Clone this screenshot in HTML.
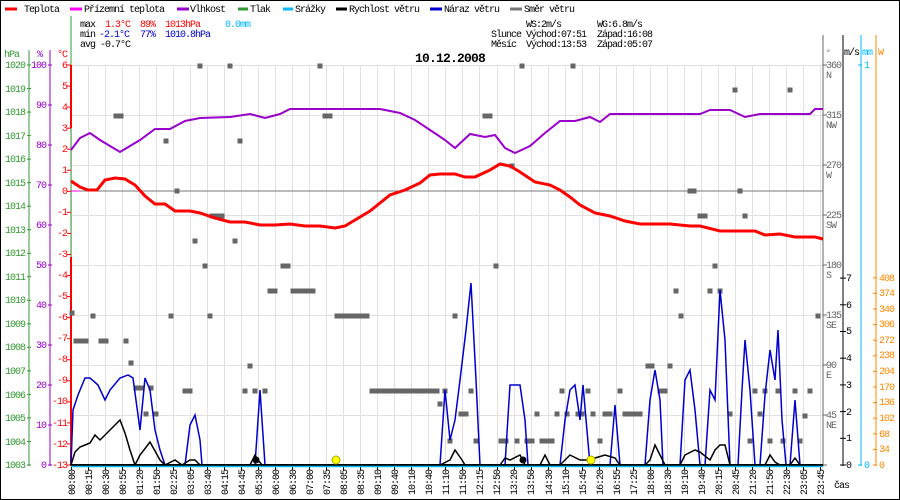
<!DOCTYPE html>
<html><head><meta charset="utf-8"><style>
html,body{margin:0;padding:0;background:#fff}
svg{display:block;font-family:"Liberation Mono",monospace;font-size:10px;letter-spacing:-1px}
</style></head><body>
<svg id="s" width="900" height="500" xmlns="http://www.w3.org/2000/svg">
<rect x="0.5" y="0.5" width="899" height="499" fill="#fff" stroke="#000"/>
<g id="grid" stroke="#e4e0e0" stroke-width="1"></g>
<g stroke-width="3">
<line x1="5" y1="9" x2="17" y2="9" stroke="#f00"/><line x1="70" y1="9" x2="82" y2="9" stroke="#f0f"/>
<line x1="177" y1="9" x2="189" y2="9" stroke="#90c"/><line x1="238" y1="9" x2="248" y2="9" stroke="#393"/>
<line x1="283" y1="9" x2="293" y2="9" stroke="#0bf"/><line x1="336" y1="9" x2="347" y2="9" stroke="#000"/>
<line x1="430" y1="9" x2="442" y2="9" stroke="#00c"/><line x1="510" y1="9" x2="522" y2="9" stroke="#777"/>
</g>
<g fill="#000">
<text x="24" y="12">Teplota</text><text x="84" y="12">Přízemní teplota</text><text x="190" y="12">Vlhkost</text>
<text x="250" y="12">Tlak</text><text x="295" y="12">Srážky</text><text x="349" y="12">Rychlost větru</text>
<text x="444" y="12">Náraz větru</text><text x="524" y="12">Směr větru</text>
<text x="80" y="27">max</text><text x="80" y="37">min</text><text x="80" y="47">avg -0.7°C</text>
<text x="526" y="27">WS:2m/s</text><text x="597" y="27">WG:6.8m/s</text>
<text x="491" y="37">Slunce</text><text x="526" y="37">Východ:07:51</text><text x="597" y="37">Západ:16:08</text>
<text x="491" y="47">Měsíc</text><text x="526" y="47">Východ:13:53</text><text x="597" y="47">Západ:05:07</text>
</g>
<text x="105" y="27" fill="#f00">1.3°C</text><text x="140" y="27" fill="#f00">89%</text><text x="165" y="27" fill="#f00">1013hPa</text><text x="225" y="27" fill="#0bf">0.0mm</text>
<text x="99" y="37" fill="#00c">-2.1°C</text><text x="140" y="37" fill="#00c">77%</text><text x="165" y="37" fill="#00c">1010.8hPa</text>
<text x="415" y="62" font-size="13" font-weight="bold" fill="#000" style="letter-spacing:-0.8px">10.12.2008</text>
<line x1="29" y1="50" x2="29" y2="466" stroke="#393"/>
<line x1="50" y1="50" x2="50" y2="466" stroke="#90c"/>
<line x1="71" y1="16" x2="71" y2="466" stroke="#393"/>
<line x1="71" y1="65" x2="71" y2="128" stroke="#f00" stroke-width="2"/>
<line x1="71" y1="257" x2="71" y2="466" stroke="#f00" stroke-width="2"/>
<text x="4" y="57" fill="#393">hPa</text><text x="37" y="57" fill="#90c">%</text><text x="57" y="57" fill="#f00">°C</text>
<g id="lax"></g>
<g fill="#393" text-anchor="end">
<text x="25" y="68">1020</text><text x="25" y="92">1019</text><text x="25" y="115">1018</text><text x="25" y="139">1017</text><text x="25" y="162">1016</text><text x="25" y="186">1015</text><text x="25" y="209">1014</text><text x="25" y="233">1013</text><text x="25" y="256">1012</text><text x="25" y="280">1011</text><text x="25" y="303">1010</text><text x="25" y="327">1009</text><text x="25" y="350">1008</text><text x="25" y="374">1007</text><text x="25" y="398">1006</text><text x="25" y="421">1005</text><text x="25" y="445">1004</text><text x="25" y="468">1003</text>
</g>
<g fill="#90c" text-anchor="end">
<text x="46" y="68">100</text><text x="46" y="108">90</text><text x="46" y="148">80</text><text x="46" y="188">70</text><text x="46" y="228">60</text><text x="46" y="268">50</text><text x="46" y="308">40</text><text x="46" y="348">30</text><text x="46" y="388">20</text><text x="46" y="428">10</text><text x="46" y="468">0</text>
</g>
<g fill="#f00" text-anchor="end">
<text x="67" y="68">6</text><text x="67" y="89">5</text><text x="67" y="110">4</text><text x="67" y="131">3</text><text x="67" y="152">2</text><text x="67" y="173">1</text><text x="67" y="194">0</text><text x="67" y="215">-1</text><text x="67" y="236">-2</text><text x="67" y="257">-3</text><text x="67" y="278">-4</text><text x="67" y="299">-5</text><text x="67" y="320">-6</text><text x="67" y="341">-7</text><text x="67" y="362">-8</text><text x="67" y="383">-9</text><text x="67" y="404">-10</text><text x="67" y="426">-11</text><text x="67" y="447">-12</text><text x="67" y="468">-13</text>
</g>
<line x1="823" y1="35" x2="823" y2="466" stroke="#666" stroke-width="1"/>
<line x1="843" y1="35" x2="843" y2="466" stroke="#000"/>
<line x1="861" y1="35" x2="861" y2="466" stroke="#0bf"/>
<line x1="876" y1="35" x2="876" y2="466" stroke="#f80"/>
<text x="826" y="55" fill="#666" font-size="8">°</text><text x="844" y="55" fill="#000">m/s</text><text x="862" y="55" fill="#0bf">mm</text><text x="878" y="55" fill="#f80">W</text>
<g fill="#666">
<text x="826" y="68">360</text><text x="826" y="78">N</text><text x="826" y="118">315</text><text x="826" y="128">NW</text><text x="826" y="168">270</text><text x="826" y="178">W</text><text x="826" y="218">225</text><text x="826" y="228">SW</text><text x="826" y="268">180</text><text x="826" y="278">S</text><text x="826" y="318">135</text><text x="826" y="328">SE</text><text x="826" y="368">90</text><text x="826" y="378">E</text><text x="826" y="418">45</text><text x="826" y="428">NE</text>
</g>
<g fill="#000"><text x="846" y="468">0</text><text x="846" y="441">1</text><text x="846" y="415">2</text><text x="846" y="388">3</text><text x="846" y="361">4</text><text x="846" y="334">5</text><text x="846" y="308">6</text><text x="846" y="281">7</text><text x="834" y="488">čas</text></g>
<g fill="#0bf"><text x="864" y="68">1</text><text x="864" y="468">0</text></g>
<g fill="#f80"><text x="879" y="468">0</text><text x="879" y="452">34</text><text x="879" y="437">68</text><text x="879" y="421">102</text><text x="879" y="405">136</text><text x="879" y="390">170</text><text x="879" y="374">204</text><text x="879" y="358">238</text><text x="879" y="343">272</text><text x="879" y="327">306</text><text x="879" y="312">340</text><text x="879" y="296">374</text><text x="879" y="281">408</text></g>
<g id="rax"></g>
<line x1="71" y1="191" x2="823" y2="191" stroke="#777"/>
<line x1="71" y1="191" x2="80" y2="191" stroke="#f0f"/>
<g id="sq" fill="#666"></g>
<polyline fill="none" stroke="#90c" stroke-width="2" points="71,150 80,138 90,133 100,140 110,146 120,152 130,146 140,140 155,129 170,129 185,121 200,118 230,117 250,114 265,118 280,114 290,109 380,109 400,113 415,120 430,130 445,140 455,148 470,134 485,137 495,135 505,148 515,153 530,146 545,133 560,121 575,121 590,117 600,122 610,114 700,114 710,110 730,110 745,117 760,114 810,114 815,109 823,109"/>
<polyline fill="none" stroke="#f00" stroke-width="3" points="71,181 80,187 88,190 97,190 105,180 115,178 125,179 135,185 145,196 155,204 165,204 175,211 190,211 200,213 215,218 230,222 245,222 260,225 275,225 290,224 305,226 320,226 335,228 345,226 355,220 370,211 380,203 390,195 405,190 420,183 430,175 440,174 455,174 465,177 475,177 490,170 500,164 510,166 520,172 535,182 550,185 560,190 570,197 580,205 595,213 610,216 625,221 640,224 655,224 670,224 690,226 700,226 720,231 740,231 755,231 765,235 780,234 795,237 815,237 823,239"/>
<polyline fill="none" stroke="#00c" stroke-width="1.5" points="71,465 73,410 78,395 85,378 90,378 98,385 105,400 110,390 120,378 128,375 133,378 140,430 145,378 150,390 155,430 160,450 165,465 185,465 190,425 195,415 200,440 202,465 255,465 260,390 265,465 440,465 445,390 450,440 455,420 460,380 466,330 471,283 476,380 480,465 505,465 510,385 520,385 525,420 528,465 560,465 565,420 570,390 575,385 580,420 583,385 590,465 610,465 615,405 620,465 645,465 650,400 655,370 660,400 663,465 680,465 685,380 690,370 695,410 700,465 705,465 710,390 715,400 720,290 725,340 730,465 738,465 742,390 745,340 750,390 755,465 760,465 765,395 770,350 775,380 778,330 782,420 786,465 790,465 795,400 800,465"/>
<polyline fill="none" stroke="#000" stroke-width="1.5" points="71,465 75,452 80,447 90,443 95,435 100,440 110,430 120,420 125,433 130,450 135,465 140,455 150,442 160,460 165,465 175,460 182,465 190,460 195,460 200,465 250,465 255,455 258,460 262,465 440,465 450,460 455,450 462,460 465,465 500,465 505,458 510,460 520,455 525,465 540,465 545,455 550,465 560,465 565,460 570,455 580,460 590,460 595,458 605,455 615,458 620,465 645,465 650,460 655,445 660,455 665,465 680,465 685,455 695,450 700,452 710,460 715,450 720,445 725,445 730,465 765,465 770,455 775,462 780,465 790,465 795,458 800,465"/>
<line x1="71" y1="465" x2="823" y2="465" stroke="#000" stroke-width="2"/>
<line x1="71" y1="466.5" x2="823" y2="466.5" stroke="#0bf" stroke-width="1.5"/>
<circle cx="336" cy="460" r="4" fill="#ff0" stroke="#aa0"/><circle cx="591" cy="460" r="4" fill="#ff0" stroke="#aa0"/>
<circle cx="256" cy="460" r="3.5" fill="#000"/><circle cx="523" cy="460" r="3.5" fill="#000"/>
<g fill="#000" text-anchor="end">
<text transform="translate(75,470) rotate(-90)">00:00</text><text transform="translate(92,470) rotate(-90)">00:15</text><text transform="translate(109,470) rotate(-90)">00:30</text><text transform="translate(126,470) rotate(-90)">00:55</text><text transform="translate(143,470) rotate(-90)">01:20</text><text transform="translate(160,470) rotate(-90)">01:50</text><text transform="translate(177,470) rotate(-90)">02:25</text><text transform="translate(194,470) rotate(-90)">03:05</text><text transform="translate(211,470) rotate(-90)">03:40</text><text transform="translate(228,470) rotate(-90)">04:15</text><text transform="translate(245,470) rotate(-90)">04:45</text><text transform="translate(262,470) rotate(-90)">05:30</text><text transform="translate(279,470) rotate(-90)">06:00</text><text transform="translate(296,470) rotate(-90)">06:30</text><text transform="translate(313,470) rotate(-90)">07:00</text><text transform="translate(330,470) rotate(-90)">07:35</text><text transform="translate(347,470) rotate(-90)">08:05</text><text transform="translate(364,470) rotate(-90)">08:35</text><text transform="translate(381,470) rotate(-90)">09:10</text><text transform="translate(398,470) rotate(-90)">09:40</text><text transform="translate(415,470) rotate(-90)">10:10</text><text transform="translate(432,470) rotate(-90)">10:40</text><text transform="translate(449,470) rotate(-90)">11:10</text><text transform="translate(466,470) rotate(-90)">11:50</text><text transform="translate(483,470) rotate(-90)">12:15</text><text transform="translate(500,470) rotate(-90)">12:50</text><text transform="translate(517,470) rotate(-90)">13:20</text><text transform="translate(534,470) rotate(-90)">13:50</text><text transform="translate(552,470) rotate(-90)">14:30</text><text transform="translate(569,470) rotate(-90)">15:10</text><text transform="translate(586,470) rotate(-90)">15:45</text><text transform="translate(603,470) rotate(-90)">16:20</text><text transform="translate(620,470) rotate(-90)">16:55</text><text transform="translate(637,470) rotate(-90)">17:25</text><text transform="translate(654,470) rotate(-90)">18:00</text><text transform="translate(671,470) rotate(-90)">18:30</text><text transform="translate(688,470) rotate(-90)">19:10</text><text transform="translate(705,470) rotate(-90)">19:40</text><text transform="translate(722,470) rotate(-90)">20:15</text><text transform="translate(739,470) rotate(-90)">20:45</text><text transform="translate(756,470) rotate(-90)">21:20</text><text transform="translate(773,470) rotate(-90)">21:50</text><text transform="translate(790,470) rotate(-90)">22:30</text><text transform="translate(807,470) rotate(-90)">23:05</text><text transform="translate(824,470) rotate(-90)">23:45</text>
</g>
</svg>
<script>
var NS="http://www.w3.org/2000/svg";
function el(p,t,a){var e=document.createElementNS(NS,t);for(var k in a)e.setAttribute(k,a[k]);p.appendChild(e);return e;}
var g=document.getElementById("grid");
for(var i=0;i<45;i++){var x=Math.round(71+17.02*i)+0.5;el(g,"line",{x1:x,y1:65,x2:x,y2:465});el(g,"line",{x1:x,y1:465,x2:x,y2:470,stroke:"#000"});}
for(var y=65;y<=465;y+=50)el(g,"line",{x1:71,y1:y+0.5,x2:823,y2:y+0.5});
var la=document.getElementById("lax");
for(var i=0;i<=17;i++){var y=65+i*400/17;el(la,"line",{x1:27,y1:y,x2:31,y2:y,stroke:"#393"});}
for(var i=0;i<=10;i++){var y=65+i*40;el(la,"line",{x1:48,y1:y,x2:52,y2:y,stroke:"#90c"});}
for(var i=0;i<=19;i++){var y=65+i*400/19;el(la,"line",{x1:67,y1:y,x2:71,y2:y,stroke:"#f00"});}
var ra=document.getElementById("rax");
for(var i=0;i<=8;i++){var y=65+i*50;el(ra,"line",{x1:823,y1:y,x2:827,y2:y,stroke:"#666"});}
for(var i=0;i<=7;i++){var y=465-i*26.7;el(ra,"line",{x1:840,y1:y,x2:846,y2:y,stroke:"#000"});}
for(var i=0;i<=12;i++){var y=465-i*15.6;el(ra,"line",{x1:873,y1:y,x2:877,y2:y,stroke:"#f80"});}
el(ra,"line",{x1:858,y1:65,x2:862,y2:65,stroke:"#0bf"});el(ra,"line",{x1:858,y1:465,x2:862,y2:465,stroke:"#0bf"});
var pts=[[72,313],[76,341],[81,341],[86,341],[93,316],[101,341],[106,341],[116,116],[121,116],[126,341],[131,363],[136,388],[141,388],[146,414],[151,388],[156,414],[166,141],[171,316],[177,191],[185,391],[190,391],[195,241],[200,66],[205,266],[210,316],[212,216],[217,216],[222,216],[230,66],[235,241],[240,141],[245,391],[250,366],[255,391],[265,391],[270,291],[275,291],[283,266],[288,266],[293,291],[298,291],[303,291],[308,291],[313,291],[320,66],[325,116],[330,116],[337,316],[342,316],[347,316],[352,316],[357,316],[362,316],[367,316],[437,391],[440,404],[445,391],[450,441],[455,316],[461,414],[466,414],[471,391],[476,441],[485,116],[490,116],[496,266],[501,441],[506,441],[512,166],[517,441],[522,66],[527,441],[532,441],[537,414],[542,441],[547,441],[552,441],[557,414],[562,391],[567,414],[573,66],[578,414],[582,414],[588,391],[593,414],[600,441],[605,414],[610,414],[620,391],[625,414],[630,414],[635,414],[640,414],[648,366],[652,366],[660,391],[665,391],[670,366],[676,291],[681,316],[690,191],[694,191],[700,216],[705,216],[710,291],[715,266],[720,291],[730,414],[735,90],[740,191],[745,216],[750,441],[755,391],[760,414],[765,391],[770,441],[778,391],[783,441],[790,90],[795,391],[800,441],[805,416],[810,391],[818,316]];
for(var x=372;x<=433;x+=5)pts.push([x,391]);
var sq=document.getElementById("sq");
pts.forEach(function(p){el(sq,"rect",{x:p[0]-2.5,y:p[1]-2.5,width:5,height:5});});
</script>
</body></html>
